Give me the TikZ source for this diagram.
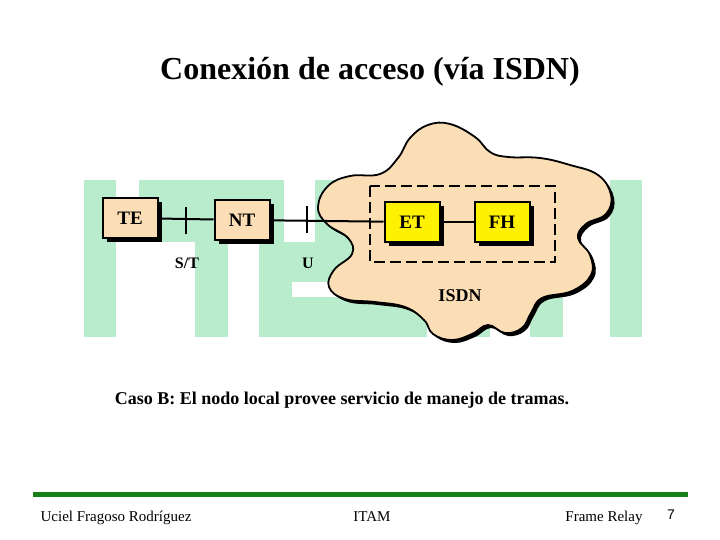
\documentclass[tikz,border=0pt]{standalone}
\usepackage{fontspec}
\setmainfont{Liberation Serif}
\newfontfamily\pagefont{Liberation Sans}
\usetikzlibrary{shadows}

\definecolor{peach}{RGB}{251,221,182}
\definecolor{wmark}{RGB}{184,236,204}
\definecolor{footbar}{RGB}{24,128,24}

\begin{document}
\begin{tikzpicture}[x=1pt, y=-1pt,
  unit/.style={rectangle, draw, line width=2pt, minimum width=55pt, minimum height=40pt,
    font=\fontsize{19}{21}\selectfont\bfseries,
    drop shadow={shadow xshift=4pt, shadow yshift=-4pt, opacity=1, fill=black}},
  link/.style={line width=2pt},
  iface/.style={font=\fontsize{16}{18}\selectfont\bfseries, anchor=base},
  foot/.style={font=\fontsize{15}{17}\selectfont, anchor=base}]
  \useasboundingbox (0,0) rectangle (720,540);

  % ITAM watermark
  \fill[wmark] (84,180) rectangle (116,337);
  \fill[wmark] (139,180) rectangle (284,242);
  \fill[wmark] (195,180) rectangle (228,337);
  \fill[wmark] (315,180) rectangle (427,242);
  \fill[wmark] (259,242) rectangle (427,337);
  \fill[white] (292,282) rectangle (337,297);
  \fill[wmark] (458,180) rectangle (490,337);
  \fill[wmark] (530,180) rectangle (563,337);
  \fill[wmark] (610,180) rectangle (642,337);

  \node[font=\fontsize{32}{36}\selectfont\bfseries] (title) at (370,72) {Conexión de acceso (vía ISDN)};

  % ISDN cloud
  \def\cloudpts{(318,207) (327,224) (348,238) (352,254) (334,270) (329,287) (345,299)
    (375,302) (405,307) (424,320) (433,334) (452,340) (472,334) (488,325) (505,333)
    (522,328) (531,313) (542,298) (572,291) (591,275) (590,255) (578,238) (586,224)
    (606,214) (611,195) (598,175) (570,165) (540,158) (508,157) (490,152) (475,137)
    (450,124) (428,125) (410,138) (398,158) (380,174) (350,176) (328,186)}
  \fill[black, shift={(3,3)}] plot[smooth cycle, tension=0.7] coordinates {\cloudpts};
  \draw[fill=peach, line width=1.8pt] plot[smooth cycle, tension=0.7] coordinates {\cloudpts};
  \node[font=\fontsize{18}{20}\selectfont\bfseries] (isdn) at (460,296) {ISDN};

  % local node
  \draw[line width=2.5pt, dash pattern=on 11pt off 5pt] (370,186) rectangle (555,262);

  \node[unit, fill=peach] (TE) at (130,218) {TE};
  \node[unit, fill=peach] (NT) at (242,220) {NT};
  \node[unit, fill=yellow] (ET) at (412,222) {ET};
  \node[unit, fill=yellow] (FH) at (502,222) {FH};

  \draw[link] (TE) -- (NT);
  \draw[link] (NT) -- (ET);
  \draw[link] (ET) -- (FH);

  % reference points
  \coordinate (st) at (186,220);
  \coordinate (u) at (307,220);
  \draw[link] (st) ++(0,-13) -- ++(0,27);
  \draw[link] (u) ++(0,-14) -- ++(0,27);
  \node[iface] (stlbl) at (187,268) {S/T};
  \node[iface] (ulbl) at (308,268) {U};

  \node[font=\fontsize{18}{20}\selectfont\bfseries] (caption) at (342,400)
    {Caso B: El nodo local provee servicio de manejo de tramas.};

  % footer
  \fill[footbar] (33,492) rectangle (688,497);
  \node[foot] (author) at (116,521) {Uciel Fragoso Rodríguez};
  \node[foot] (school) at (372,521) {ITAM};
  \node[foot] (course) at (604,521) {Frame Relay};
  \node[font=\fontsize{14}{16}\selectfont\pagefont, anchor=base] (page) at (671,519) {7};
\end{tikzpicture}
\end{document}
